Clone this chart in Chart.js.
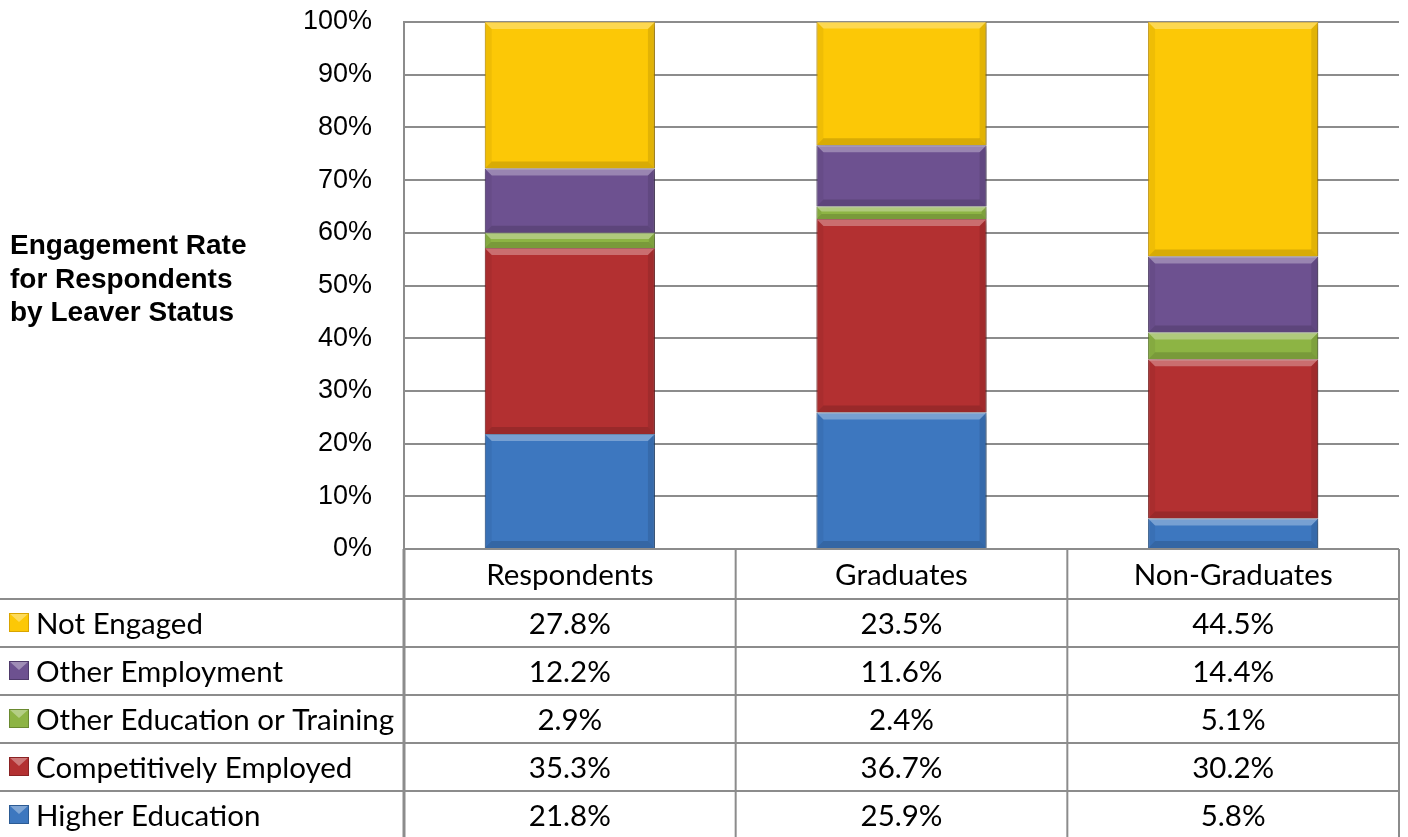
<!DOCTYPE html>
<html>
<head>
<meta charset="utf-8">
<script src="https://cdn.jsdelivr.net/npm/chart.js@4.4.1/dist/chart.umd.min.js"></script>
<style>
  html, body { margin: 0; padding: 0; background: #fff; }
  canvas { display: block; }
</style>
</head>
<body>
<canvas id="chart" width="1408" height="837"></canvas>
<script>
var categories = ['Respondents', 'Graduates', 'Non-Graduates'];
var higherEducation = [21.8, 25.9, 5.8];
var competitivelyEmployed = [35.3, 36.7, 30.2];
var otherEducation = [2.9, 2.4, 5.1];
var otherEmployment = [12.2, 11.6, 14.4];
var notEngaged = [27.8, 23.5, 44.5];
var yTickValues = [0, 10, 20, 30, 40, 50, 60, 70, 80, 90, 100];
var titleLines = ['Engagement Rate', 'for Respondents', 'by Leaver Status'];

var lineColor = '#8c8c8c';
var tableFont = '29.5px Lato';

// Datasets de baixo para cima
var chartData = {
  labels: categories,
  datasets: [
    { label: 'Higher Education', data: higherEducation, backgroundColor: '#3d77bf', borderColor: '#2c5b94' },
    { label: 'Competitively Employed', data: competitivelyEmployed, backgroundColor: '#b33031', borderColor: '#8a2223' },
    { label: 'Other Education or Training', data: otherEducation, backgroundColor: '#8db444', borderColor: '#6a8a30' },
    { label: 'Other Employment', data: otherEmployment, backgroundColor: '#6d5190', borderColor: '#4f3a6b' },
    { label: 'Not Engaged', data: notEngaged, backgroundColor: '#fcc806', borderColor: '#d9a400' }
  ]
};
chartData.datasets.forEach(function(ds) {
  ds.borderWidth = 1;
  ds.categoryPercentage = 1;
  ds.barPercentage = 0.513;
});

function poly(ctx, pts, fill) {
  ctx.beginPath();
  ctx.moveTo(pts[0][0], pts[0][1]);
  for (var i = 1; i < pts.length; i++) ctx.lineTo(pts[i][0], pts[i][1]);
  ctx.closePath();
  ctx.fillStyle = fill;
  ctx.fill();
}

// sombra + efeito de chanfro nas barras
var bevelPlugin = {
  id: 'bevel',
  beforeDatasetsDraw: function(chart) {
    var ctx = chart.ctx;
    ctx.save();
    ctx.shadowColor = 'rgba(0,0,0,0.35)';
    ctx.shadowBlur = 6;
    ctx.shadowOffsetX = 2;
    ctx.shadowOffsetY = 2;
  },
  afterDatasetsDraw: function(chart) {
    var ctx = chart.ctx;
    ctx.restore();
    ctx.save();
    var area = chart.chartArea;
    ctx.beginPath();
    ctx.rect(area.left, area.top, area.right - area.left, area.bottom - area.top);
    ctx.clip();
    chart.data.datasets.forEach(function(ds, i) {
      chart.getDatasetMeta(i).data.forEach(function(bar) {
        var p = bar.getProps(['x', 'y', 'base', 'width'], true);
        var l = p.x - p.width / 2, r = p.x + p.width / 2;
        var t = Math.min(p.y, p.base), b = Math.max(p.y, p.base);
        var d = Math.min(7, (b - t) / 2.5);
        poly(ctx, [[l, t], [r, t], [r - d, t + d], [l + d, t + d]], 'rgba(255,255,255,0.3)');
        poly(ctx, [[l, b], [r, b], [r - d, b - d], [l + d, b - d]], 'rgba(0,0,0,0.14)');
        poly(ctx, [[l, t], [l + d, t + d], [l + d, b - d], [l, b]], 'rgba(0,0,0,0.05)');
        poly(ctx, [[r, t], [r - d, t + d], [r - d, b - d], [r, b]], 'rgba(0,0,0,0.1)');
      });
    });
    ctx.restore();
  }
};

// tabela de dados + título do eixo
var tablePlugin = {
  id: 'dataTable',
  afterDraw: function(chart) {
    var ctx = chart.ctx;
    var x = chart.scales.x;
    var area = chart.chartArea;
    var colW = (x.right - x.left) / categories.length;
    var headerTop = area.bottom, headerBottom = area.bottom + 50, rowH = 48;
    var rows = chart.data.datasets.slice().reverse();
    var H = chart.height;

    ctx.save();
    ctx.strokeStyle = lineColor;
    ctx.lineWidth = 2;

    // linhas horizontais
    for (var r = 0; r <= rows.length; r++) {
      var yy = headerBottom + r * rowH;
      ctx.beginPath();
      ctx.moveTo(0, yy);
      ctx.lineTo(x.right, yy);
      ctx.stroke();
    }
    // linhas verticais
    for (var c = 1; c <= categories.length; c++) {
      var xx = x.left + c * colW;
      ctx.beginPath();
      ctx.moveTo(xx, headerTop);
      ctx.lineTo(xx, H);
      ctx.stroke();
    }
    ctx.lineWidth = 3;
    ctx.beginPath();
    ctx.moveTo(x.left, headerTop);
    ctx.lineTo(x.left, H);
    ctx.stroke();

    ctx.fillStyle = '#000';
    ctx.font = tableFont;
    ctx.textBaseline = 'middle';
    ctx.textAlign = 'center';
    categories.forEach(function(cat, i) {
      ctx.fillText(cat, x.getPixelForValue(i), (headerTop + headerBottom) / 2 + 1);
    });

    rows.forEach(function(ds, ri) {
      var cy = headerBottom + ri * rowH + rowH / 2;
      // quadradinho da legenda
      ctx.fillStyle = ds.backgroundColor;
      ctx.fillRect(9, cy - 10, 20, 19);
      poly(ctx, [[9, cy - 10], [29, cy - 10], [19, cy - 1]], 'rgba(255,255,255,0.35)');
      ctx.strokeStyle = ds.borderColor;
      ctx.lineWidth = 1;
      ctx.strokeRect(9.5, cy - 9.5, 19, 18);

      ctx.fillStyle = '#000';
      ctx.textAlign = 'left';
      ctx.fillText(ds.label, 36, cy + 1);
      ctx.textAlign = 'center';
      ds.data.forEach(function(v, i) {
        ctx.fillText(v.toFixed(1) + '%', x.getPixelForValue(i), cy + 1);
      });
    });

    // título
    ctx.font = 'bold 28px "Liberation Sans"';
    ctx.textAlign = 'left';
    ctx.textBaseline = 'alphabetic';
    titleLines.forEach(function(line, i) {
      ctx.fillText(line, 10, 254 + i * 33.5);
    });
    ctx.restore();
  }
};

var ctx = document.getElementById('chart').getContext('2d');
new Chart(ctx, {
  type: 'bar',
  data: chartData,
  options: {
    responsive: false,
    animation: false,
    devicePixelRatio: 1,
    layout: { padding: { top: 22, right: 9, bottom: 288, left: 0 } },
    plugins: { legend: { display: false }, tooltip: { enabled: false } },
    scales: {
      x: { stacked: true, display: false },
      y: {
        stacked: true,
        min: 0,
        max: 100,
        afterFit: function(scale) {
          scale.width = 404;
          scale.paddingTop = 0;
          scale.paddingBottom = 0;
        },
        afterBuildTicks: function(scale) {
          scale.ticks = yTickValues.map(function(v) { return { value: v }; });
        },
        ticks: {
          padding: 32,
          color: '#000',
          font: { family: 'Liberation Sans', size: 27 },
          callback: function(v) { return v + '%'; }
        },
        grid: { color: lineColor, lineWidth: 2, drawTicks: false },
        border: { color: lineColor, width: 2 }
      }
    }
  },
  plugins: [bevelPlugin, tablePlugin]
});
</script>
</body>
</html>
